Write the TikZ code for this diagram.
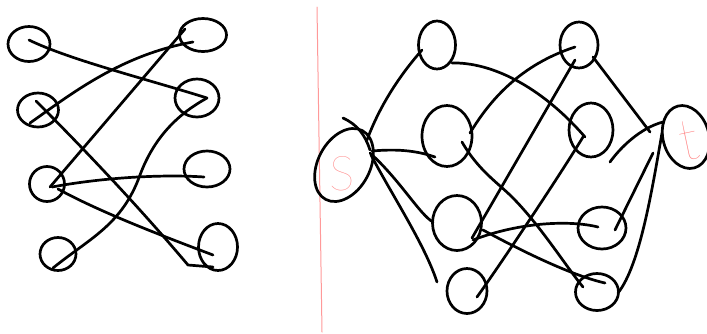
\documentclass[tikz,border=0pt]{standalone}
\usepackage{fontspec}
\newfontfamily\thinfont{Lato Hairline}
\usetikzlibrary{shapes.geometric,calc}
\begin{document}
\begin{tikzpicture}[x=1pt,y=-1pt,
  pen/.style={line width=2.7pt,line cap=round,line join=round,black},
  vtx/.style={pen,draw,ellipse,inner sep=0pt},
  redpen/.style={line width=1pt,draw=red!40,line cap=round},
  redtxt/.style={text=red!50,inner sep=0pt}]
\useasboundingbox (0,0) rectangle (707,333);
% left graph vertices
\node[vtx,minimum width=42,minimum height=35] (L1) at (29,44) {};
\node[vtx,minimum width=41,minimum height=34] (L2) at (38,110) {};
\node[vtx,minimum width=35,minimum height=35] (L3) at (47,184) {};
\node[vtx,minimum width=36,minimum height=33] (L4) at (58,254) {};
\node[vtx,minimum width=47,minimum height=33] (R1) at (203,35) {};
\node[vtx,minimum width=44,minimum height=38] (R2) at (197,98) {};
\node[vtx,minimum width=46,minimum height=36] (R3) at (207,169) {};
\node[vtx,minimum width=39,minimum height=47] (R4) at (218,247) {};
% left graph edges
\draw[pen] ($(L1)+(0,-4)$) .. controls (70,60) and (150,80) .. ($(R2)+(10,0)$);
\draw[pen] ($(L2)+(-8,13)$) .. controls (70,95) and (120,55) .. ($(R1)+(-10,7)$);
\draw[pen] ($(L2)+(-2,-9)$) .. controls (100,165) and (150,220) .. ($(R4)+(-30,18)$) -- ($(R4)+(-5,20)$);
\draw[pen] ($(L3)+(3,3)$) -- ($(R1)+(-18,-6)$);
\draw[pen] ($(L3)+(5,3)$) .. controls (100,178) and (160,174) .. ($(R3)+(-3,8)$);
\draw[pen] ($(L3)+(11,5)$) .. controls (100,212) and (160,235) .. ($(R4)+(-5,8)$);
\draw[pen] ($(L4)+(-5,14)$) .. controls (90,238) and (122,225) .. (140,175)
  .. controls (155,135) and (180,113) .. ($(R2)+(10,0)$);
% separator
\draw[redpen] (317,7) -- (322,332);
% right graph vertices
\node[vtx,minimum width=78,minimum height=52,rotate=62] (S) at (344,165) {};
\node[vtx,minimum width=46,minimum height=64,rotate=15] (T) at (686,137) {};
\node[redtxt,font=\thinfont\fontsize{48}{48}\selectfont] (Slab) at (342,174) {S};
\node[redtxt,font=\thinfont\fontsize{58}{58}\selectfont,rotate=12] (Tlab) at (689,141) {t};
\node[vtx,minimum width=37,minimum height=48] (A1) at (437,45) {};
\node[vtx,minimum width=50,minimum height=61] (A2) at (447,136) {};
\node[vtx,minimum width=49,minimum height=55] (A3) at (457,223) {};
\node[vtx,minimum width=40,minimum height=45] (A4) at (467,291) {};
\node[vtx,minimum width=38,minimum height=46] (B1) at (579,45) {};
\node[vtx,minimum width=44,minimum height=54] (B2) at (591,130) {};
\node[vtx,minimum width=48,minimum height=42] (B3) at (602,228) {};
\node[vtx,minimum width=43,minimum height=37] (B4) at (597,292) {};
\coordinate (tend) at (610,162);
% right graph edges
\draw[pen] ($(S)+(-1,-47)$) .. controls (358,125) and (365,135) .. ($(S)+(26,-15)$);
\draw[pen] ($(S)+(23,-25)$) .. controls (380,105) and (400,75) .. ($(A1)+(-15,5)$);
\draw[pen] ($(S)+(28,-14)$) .. controls (395,149) and (415,150) .. ($(A2)+(-12,21)$);
\draw[pen] ($(S)+(26,-12)$) .. controls (400,180) and (420,215) .. ($(A3)+(-24,-1)$);
\draw[pen] ($(S)+(27,-10)$) .. controls (392,195) and (425,245) .. ($(A4)+(-30,-9)$);
\draw[pen] ($(A1)+(15,18)$) .. controls (490,62) and (540,85) .. ($(B2)+(-6,7)$);
\draw[pen] ($(A2)+(23,-3)$) .. controls (490,100) and (520,65) .. ($(B1)+(-4,2)$);
\draw[pen] ($(A2)+(15,6)$) .. controls (478,170) and (498,183) .. (512,197)
  .. controls (540,225) and (565,265) .. ($(B4)+(-14,-5)$);
\draw[pen] ($(A3)+(15,15)$) -- ($(B1)+(-4,15)$);
\draw[pen] ($(A3)+(26,7)$) .. controls (520,250) and (570,275) .. ($(B4)+(8,-9)$);
\draw[pen] ($(B3)+(-4,-1)$) .. controls (570,220) and (520,222) .. ($(A3)+(16,17)$);
\draw[pen] ($(A4)+(10,6)$) .. controls (500,265) and (560,175) .. ($(B2)+(-8,7)$);
\draw[pen] ($(B1)+(14,12)$) -- ($(T)+(-36,-5)$);
\draw[pen] ($(T)+(-23,-15)$) .. controls (640,128) and (620,148) .. (tend);
\draw[pen] ($(T)+(-33,16)$) -- ($(B3)+(13,2)$);
\draw[pen] ($(T)+(-24,-4)$) .. controls (652,190) and (640,265) .. ($(B4)+(21,1)$);
\end{tikzpicture}
\end{document}
